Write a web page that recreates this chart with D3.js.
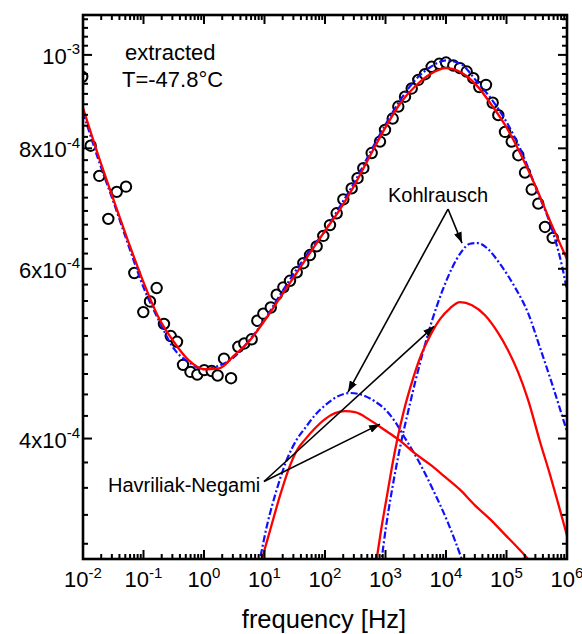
<!DOCTYPE html>
<html>
<head>
<meta charset="utf-8">
<script src="https://cdnjs.cloudflare.com/ajax/libs/d3/7.8.5/d3.min.js"></script>
<style>
  body { margin: 0; background: #fff; }
  text { font-family: "Liberation Sans", Arial, sans-serif; fill: #000; }
</style>
</head>
<body>
<svg id="chart" width="582" height="634"></svg>
<script>
// ---- axis ticks ----
const xTickExponents = [-2, -1, 0, 1, 2, 3, 4, 5, 6];
const yTickValues = [4e-4, 6e-4, 8e-4, 1e-3];
const yTickLabels = [["4x10", "-4"], ["6x10", "-4"], ["8x10", "-4"], ["10", "-3"]];

// ---- measured loss spectrum (open circles) ----
const dataFreq = [0.0097, 0.0134, 0.0186, 0.0262, 0.0361, 0.0514, 0.0705, 0.0992, 0.128, 0.165,
  0.218, 0.282, 0.358, 0.450, 0.598, 0.775, 1.01, 1.34, 1.68, 2.14,
  2.80, 3.69, 4.64, 6.14, 7.60, 9.56, 12.7, 15.9, 20.5, 26.4,
  34.1, 43.8, 56.5, 72.9, 93.7, 121, 156, 201, 276, 345,
  430, 591, 811, 981, 1315, 1628, 2101, 2712, 3485, 4497,
  5801, 7752, 10000, 13205, 17034, 21983, 28263, 35518, 45840, 59140,
  73200, 94450, 121900, 156700, 202200, 260900, 335500, 432900, 580100];
const dataValue = [9.49e-4, 8.05e-4, 7.49e-4, 6.76e-4, 7.21e-4, 7.30e-4, 5.94e-4, 5.41e-4, 5.55e-4, 5.73e-4,
  5.26e-4, 5.11e-4, 5.04e-4, 4.77e-4, 4.69e-4, 4.66e-4, 4.71e-4, 4.70e-4, 4.65e-4, 4.84e-4,
  4.62e-4, 4.98e-4, 5.02e-4, 5.07e-4, 5.30e-4, 5.39e-4, 5.47e-4, 5.64e-4, 5.74e-4, 5.83e-4,
  5.95e-4, 6.08e-4, 6.20e-4, 6.33e-4, 6.49e-4, 6.66e-4, 6.85e-4, 7.08e-4, 7.27e-4, 7.45e-4,
  7.63e-4, 7.91e-4, 8.13e-4, 8.36e-4, 8.59e-4, 8.84e-4, 9.05e-4, 9.23e-4, 9.42e-4, 9.55e-4,
  9.72e-4, 9.79e-4, 9.82e-4, 9.75e-4, 9.69e-4, 9.61e-4, 9.46e-4, 9.26e-4, 9.31e-4, 8.92e-4,
  8.66e-4, 8.32e-4, 8.13e-4, 7.87e-4, 7.55e-4, 7.25e-4, 7.01e-4, 6.63e-4, 6.46e-4];

// ---- total fits ----
const hnTotalFreq = [0.01, 0.0178, 0.0316, 0.0562, 0.1, 0.178, 0.316, 0.562, 1, 1.78,
  3.16, 5.62, 10, 17.8, 31.6, 56.2, 100, 178, 316, 562,
  1000, 1780, 3160, 5620, 1e4, 1.78e4, 3.16e4, 5.62e4, 1e5, 1.78e5,
  3.16e5, 5.62e5, 1e6];
const hnTotalValue = [8.81e-4, 7.87e-4, 7.09e-4, 6.40e-4, 5.81e-4, 5.34e-4, 5.04e-4, 4.82e-4, 4.72e-4, 4.73e-4,
  4.88e-4, 5.05e-4, 5.30e-4, 5.59e-4, 5.90e-4, 6.23e-4, 6.57e-4, 6.92e-4, 7.35e-4, 7.87e-4,
  8.41e-4, 8.92e-4, 9.29e-4, 9.56e-4, 9.69e-4, 9.59e-4, 9.31e-4, 8.88e-4, 8.41e-4, 7.85e-4,
  7.26e-4, 6.66e-4, 6.14e-4];
const kwwTotalFreq = [0.01, 0.0178, 0.0316, 0.0562, 0.1, 0.178, 0.316, 0.562, 1, 1.78,
  3.16, 5.62, 10, 17.8, 31.6, 56.2, 100, 178, 316, 562,
  1000, 1780, 3160, 5620, 1e4, 1.78e4, 3.16e4, 5.62e4, 1e5, 1.78e5,
  3.16e5, 5.62e5, 8.27e5, 1e6];
const kwwTotalValue = [8.72e-4, 7.80e-4, 7.05e-4, 6.35e-4, 5.74e-4, 5.31e-4, 4.96e-4, 4.80e-4, 4.72e-4, 4.76e-4,
  4.86e-4, 5.06e-4, 5.31e-4, 5.63e-4, 5.95e-4, 6.27e-4, 6.57e-4, 6.97e-4, 7.40e-4, 7.93e-4,
  8.47e-4, 8.99e-4, 9.43e-4, 9.72e-4, 9.87e-4, 9.78e-4, 9.40e-4, 9.00e-4, 8.52e-4, 7.93e-4,
  7.24e-4, 6.60e-4, 6.04e-4, 5.70e-4];

// ---- Havriliak-Negami components ----
const hnLowFreq = [7.81, 9.09, 12.33, 18.04, 26.39, 34.45, 46.7, 68.35, 100, 146.3,
  214.1, 313.3, 554.3, 981, 1737, 3073, 5438, 9627, 17030, 30150,
  53380, 94450, 154900, 226700, 331700];
const hnLowValue = [2.89e-4, 3.00e-4, 3.21e-4, 3.49e-4, 3.75e-4, 3.89e-4, 3.99e-4, 4.10e-4, 4.19e-4, 4.25e-4,
  4.27e-4, 4.26e-4, 4.18e-4, 4.08e-4, 3.98e-4, 3.86e-4, 3.76e-4, 3.65e-4, 3.54e-4, 3.41e-4,
  3.30e-4, 3.18e-4, 3.08e-4, 3.00e-4, 2.91e-4];
const hnHighFreq = [621.5, 715.3, 842.5, 1059, 1281, 1549, 2022, 2742, 3717, 5438,
  7958, 11650, 17030, 26910, 44120, 69660, 105900, 154900, 226700, 357800,
  523600, 710000, 962700, 1210000];
const hnHighValue = [2.82e-4, 3.00e-4, 3.21e-4, 3.49e-4, 3.74e-4, 3.98e-4, 4.28e-4, 4.58e-4, 4.85e-4, 5.11e-4,
  5.32e-4, 5.46e-4, 5.54e-4, 5.50e-4, 5.37e-4, 5.17e-4, 4.94e-4, 4.69e-4, 4.39e-4, 3.97e-4,
  3.67e-4, 3.43e-4, 3.20e-4, 3.04e-4];

// ---- Kohlrausch components ----
const kwwLowFreq = [6.966, 8.427, 10.87, 15.91, 23.28, 34.06, 46.7, 68.35, 100, 157.9,
  258.9, 408.9, 670.7, 1019, 1492, 2022, 3445, 6097, 10790, 18180, 22240];
const kwwLowValue = [2.83e-4, 3.00e-4, 3.24e-4, 3.54e-4, 3.80e-4, 3.99e-4, 4.10e-4, 4.23e-4, 4.33e-4, 4.42e-4,
  4.46e-4, 4.44e-4, 4.37e-4, 4.28e-4, 4.15e-4, 4.02e-4, 3.80e-4, 3.54e-4, 3.27e-4, 3.00e-4, 2.89e-4];
const kwwHighFreq = [780.6, 865.3, 1019, 1233, 1492, 1853, 2354, 3073, 4168, 5869,
  8589, 12570, 17700, 24930, 33810, 49450, 78080, 138200, 226700, 357800,
  565000, 926700, 1210000];
const kwwHighValue = [2.85e-4, 3.00e-4, 3.24e-4, 3.49e-4, 3.73e-4, 3.99e-4, 4.26e-4, 4.57e-4, 4.92e-4, 5.30e-4,
  5.68e-4, 6.01e-4, 6.24e-4, 6.37e-4, 6.38e-4, 6.29e-4, 6.07e-4, 5.74e-4, 5.40e-4, 4.97e-4,
  4.56e-4, 4.13e-4, 3.91e-4];

// ---- annotation arrows: [fromFreq, fromValue, toFreq, toValue] ----
const kwwArrows = [[10790, 6.92e-4, 18390, 6.38e-4], [10790, 6.92e-4, 240, 4.47e-4]];
const hnArrows = [[9.81, 3.61e-4, 6334, 5.23e-4], [9.81, 3.61e-4, 811, 4.14e-4]];

// ---- layout ----
const plotLeft = 83, plotRight = 567, plotTop = 15, plotBottom = 559;
const svg = d3.select("#chart");
const x = d3.scaleLog().domain([1e-2, 1e6]).range([plotLeft, plotRight]);
const y = d3.scaleLog().domain([3e-4, 1.1e-3]).range([plotBottom, plotTop]);

const defs = svg.append("defs");
defs.append("clipPath").attr("id", "plotClip")
  .append("rect").attr("x", plotLeft).attr("y", plotTop)
  .attr("width", plotRight - plotLeft).attr("height", plotBottom - plotTop);

defs.append("marker")
  .attr("id", "arrowHead").attr("markerUnits", "userSpaceOnUse")
  .attr("markerWidth", 11).attr("markerHeight", 8)
  .attr("refX", 11).attr("refY", 4).attr("orient", "auto")
  .append("path").attr("d", "M0,0 L11,4 L0,8 Z").attr("fill", "#000");

const plot = svg.append("g").attr("clip-path", "url(#plotClip)");

const zip = (fs, vs) => fs.map((f, i) => [f, vs[i]]);
const line = d3.line().x(d => x(d[0])).y(d => y(d[1])).curve(d3.curveMonotoneX);

// data circles
plot.append("g").selectAll("circle")
  .data(zip(dataFreq, dataValue)).join("circle")
  .attr("cx", d => x(d[0])).attr("cy", d => y(d[1])).attr("r", 5.2)
  .attr("fill", "#fff").attr("stroke", "#000").attr("stroke-width", 2);

// Kohlrausch fits (blue dash-dot)
const blueStyle = sel => sel.attr("fill", "none").attr("stroke", "#1010ff")
  .attr("stroke-width", 2.2).attr("stroke-dasharray", "7,2.5,2,2.5");
[zip(kwwTotalFreq, kwwTotalValue), zip(kwwLowFreq, kwwLowValue), zip(kwwHighFreq, kwwHighValue)]
  .forEach(s => plot.append("path").attr("d", line(s)).call(blueStyle));

// Havriliak-Negami fits (red solid)
[zip(hnTotalFreq, hnTotalValue), zip(hnLowFreq, hnLowValue), zip(hnHighFreq, hnHighValue)]
  .forEach(s => plot.append("path").attr("d", line(s))
    .attr("fill", "none").attr("stroke", "#ff0000").attr("stroke-width", 2.3));

// arrows
[...kwwArrows, ...hnArrows].forEach(a => {
  svg.append("line")
    .attr("x1", x(a[0])).attr("y1", y(a[1]))
    .attr("x2", x(a[2])).attr("y2", y(a[3]))
    .attr("stroke", "#000").attr("stroke-width", 1.6)
    .attr("marker-end", "url(#arrowHead)");
});

// ---- axes ----
const axes = svg.append("g").attr("stroke", "#000").attr("stroke-width", 2);
const xMajor = xTickExponents.map(e => Math.pow(10, e));
const xMinor = [];
xTickExponents.slice(0, -1).forEach(e => { for (let m = 2; m <= 9; m++) xMinor.push(m * Math.pow(10, e)); });
const yStep = (yTickValues[1] - yTickValues[0]) / 9;
const yMinor = [];
for (let i = -4; i <= 31; i++) {
  if (i % 9 === 0) continue;
  const v = yTickValues[0] + i * yStep;
  if (v > 3e-4 && v < 1.1e-3) yMinor.push(v);
}
const tick = (x1, y1, x2, y2) => axes.append("line").attr("x1", x1).attr("y1", y1).attr("x2", x2).attr("y2", y2);
xMajor.forEach(v => { tick(x(v), plotBottom, x(v), plotBottom - 9); tick(x(v), plotTop, x(v), plotTop + 9); });
xMinor.forEach(v => { tick(x(v), plotBottom, x(v), plotBottom - 5); tick(x(v), plotTop, x(v), plotTop + 5); });
yTickValues.forEach(v => { tick(plotLeft, y(v), plotLeft + 9, y(v)); tick(plotRight, y(v), plotRight - 9, y(v)); });
yMinor.forEach(v => { tick(plotLeft, y(v), plotLeft + 5, y(v)); tick(plotRight, y(v), plotRight - 5, y(v)); });

svg.append("rect").attr("x", plotLeft).attr("y", plotTop)
  .attr("width", plotRight - plotLeft).attr("height", plotBottom - plotTop)
  .attr("fill", "none").attr("stroke", "#000").attr("stroke-width", 2.6);

// tick labels
xTickExponents.forEach(e => {
  const t = svg.append("text").attr("x", x(Math.pow(10, e))).attr("y", 587)
    .attr("text-anchor", "middle").attr("font-size", 22);
  t.append("tspan").text("10");
  t.append("tspan").attr("dy", -9).attr("font-size", 15).text(e);
});
yTickValues.forEach((v, i) => {
  const t = svg.append("text").attr("x", 80).attr("y", y(v) + 9)
    .attr("text-anchor", "end").attr("font-size", 22);
  t.append("tspan").text(yTickLabels[i][0]);
  t.append("tspan").attr("dy", -9.5).attr("font-size", 15).text(yTickLabels[i][1]);
});

// axis title and annotations
svg.append("text").attr("x", 324).attr("y", 628).attr("text-anchor", "middle")
  .attr("font-size", 25.5).text("frequency [Hz]");
svg.append("text").attr("x", 125).attr("y", 60).attr("font-size", 22).text("extracted");
svg.append("text").attr("x", 122).attr("y", 87).attr("font-size", 22).text("T=-47.8°C");
svg.append("text").attr("x", 388).attr("y", 202).attr("font-size", 20).text("Kohlrausch");
svg.append("text").attr("x", 108).attr("y", 492).attr("font-size", 20).text("Havriliak-Negami");
</script>
</body>
</html>
